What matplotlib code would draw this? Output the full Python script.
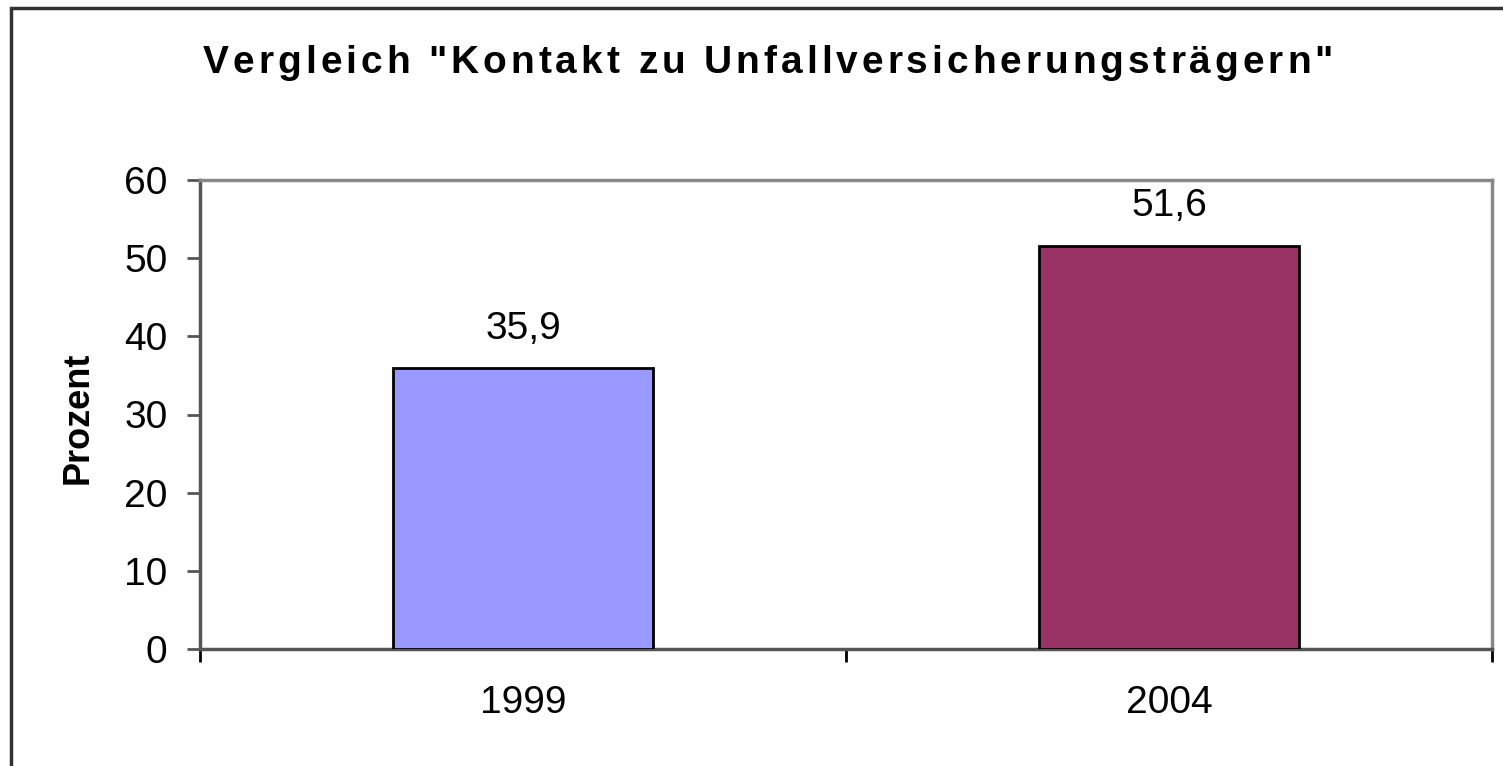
import matplotlib
matplotlib.use("Agg")
from matplotlib import pyplot as plt
from matplotlib.patches import Rectangle
from matplotlib.font_manager import FontProperties

plt.rcParams['font.family'] = ['Liberation Sans', 'DejaVu Sans']

title = 'Vergleich "Kontakt zu Unfallversicherungsträgern"'
years = ['1999', '2004']
values = [35.9, 51.6]
value_labels = ['35,9', '51,6']
colors = ['#9999FF', '#993366']
y_ticks = [0, 10, 20, 30, 40, 50, 60]

W, H = 1503, 766
fig = plt.figure(figsize=(W / 100, H / 100), dpi=100)
ax = fig.add_axes([200 / W, 1 - 649 / H, 1292 / W, 469 / H])

pos = [0.5, 1.5]
ax.bar(pos, values, width=0.404, color=colors, edgecolor='black', linewidth=2, zorder=3)
for x, v, lab in zip(pos, values, value_labels):
    ax.annotate(lab, (x, v), xytext=(0, 21.5), textcoords='offset points',
                ha='center', va='baseline', fontsize=28)

ax.set_xlim(0, 2)
ax.set_ylim(0, 60)
ax.set_yticks(y_ticks)
ax.set_yticklabels([str(t) for t in y_ticks], fontsize=28)
ax.set_xticks([0, 1, 2])
ax.set_xticklabels([])
ax.set_xticks(pos, minor=True)
ax.set_xticklabels(years, minor=True, fontsize=28)
ax.tick_params(axis='x', which='minor', length=0, pad=26)
ax.tick_params(axis='x', which='major', length=9, width=2, color='black')
ax.tick_params(axis='y', length=9.5, width=2, color='#555555', pad=14)

ax.spines['left'].set_color('#555555')
ax.spines['bottom'].set_color('#555555')
ax.spines['top'].set_color('#888888')
ax.spines['right'].set_color('#888888')
for s in ax.spines.values():
    s.set_linewidth(2.5)

fig.text(78 / W, 1 - 418 / H, 'Prozent', rotation=90, ha='center', va='center',
         fontsize=26, fontweight='bold')

# Titel mit Zeichenabstand (wie im Original)
fp = FontProperties(family=['Liberation Sans', 'DejaVu Sans'], weight='bold', size=28)
renderer = fig.canvas.get_renderer()
widths = [renderer.get_text_width_height_descent(c, fp, ismath=False)[0] for c in title]
left, right = 203, 1333
spacing = (right - left - sum(widths)) / (len(title) - 1)
xpix = left
for c, w in zip(title, widths):
    fig.text(xpix / W, 1 - 73 / H, c, ha='left', va='baseline', fontproperties=fp)
    xpix += w + spacing

# Rahmen um das Diagramm
fig.patches.append(Rectangle((11 / W, -0.01), 1.1, 1 - 8 / H + 0.01,
                             transform=fig.transFigure, fill=False,
                             edgecolor='#333333', linewidth=2.5))

fig.savefig('out.png', dpi=100)
